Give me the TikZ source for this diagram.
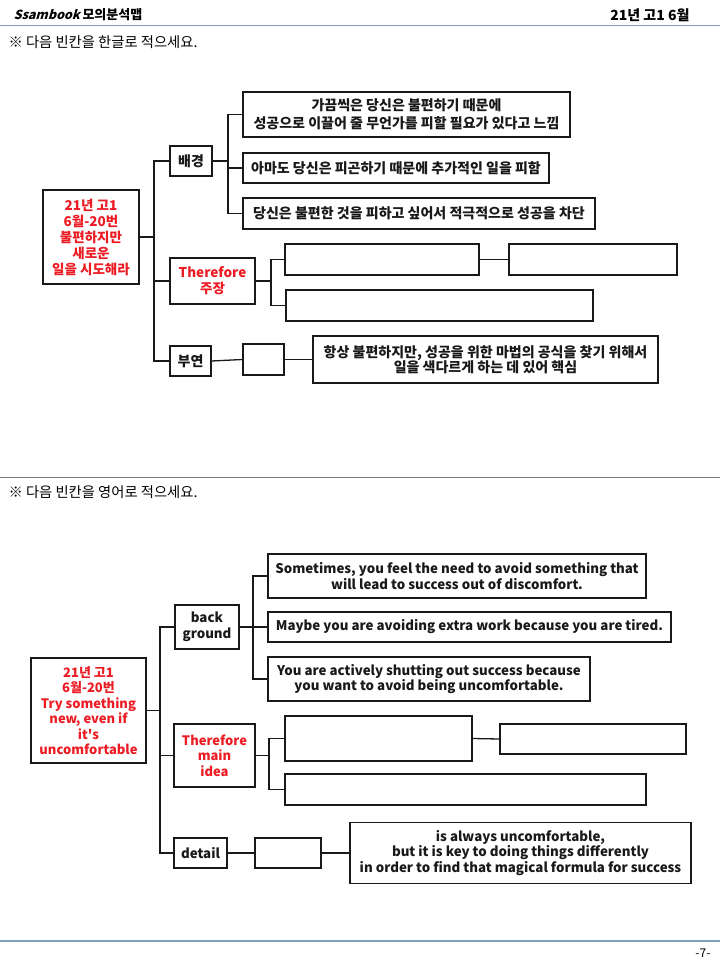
\documentclass[tikz,border=0pt]{standalone}
\usepackage{fontspec}
\setmainfont{Noto Sans CJK KR}
\newfontfamily\brandfont{Noto Sans CJK KR}[FakeSlant=0.3]
\definecolor{keyred}{RGB}{236,28,36}
\definecolor{rulecol}{RGB}{128,158,190}
\definecolor{sepcol}{RGB}{120,120,120}
\definecolor{ink}{RGB}{25,25,25}
\begin{document}
\begin{tikzpicture}[x=1pt,y=-1pt,
  box/.style={draw=ink, line width=1.3pt, inner sep=0pt, align=center, text=ink,
    font=\bfseries\fontsize{14}{18.5}\selectfont},
  entext/.style={box, font=\bfseries\fontsize{13.3}{15.5}\selectfont},
  key/.style={box, text=keyred, font=\bfseries\fontsize{13.5}{16}\selectfont},
  enkey/.style={box, text=keyred, font=\bfseries\fontsize{13}{15.5}\selectfont},
  wire/.style={draw=ink, line width=1.3pt}]
\useasboundingbox (0,0) rectangle (720,960);
\fill[white] (0,0) rectangle (720,960);

% page header and footer
\node[anchor=west, font=\brandfont\bfseries\fontsize{12.5}{12.5}\selectfont] (brand) at (10,15) {Ssambook};
\node[anchor=west, font=\bfseries\fontsize{13}{13}\selectfont] (title) at (79,15) {모의분석맵};
\node[anchor=east, font=\bfseries\fontsize{14}{14}\selectfont] (exam) at (693,15) {21년 고1 6월};
\draw[rulecol, line width=1.4pt] (0,25.5) -- (720,25.5);
\draw[rulecol, line width=1.4pt] (0,941) -- (720,941);
\node[anchor=east, font=\fontsize{12}{12}\selectfont] (page) at (714,953) {-7-};

% ---------------- Korean map ----------------
\node[anchor=west, font=\fontsize{14.3}{14.3}\selectfont] (q1) at (5,42) {※ 다음 빈칸을 한글로 적으세요.};

\node[key, minimum width=96, minimum height=94] (rootk) at (91,237)
  {21년 고1\\6월-20번\\불편하지만\\새로운\\일을 시도해라};
\node[box, minimum width=42, minimum height=30] (bgk) at (191,161) {배경};
\node[key, minimum width=85, minimum height=46] (thk) at (212.5,281) {Therefore\\주장};
\node[box, minimum width=41, minimum height=30] (buk) at (190.5,361) {부연};

\node[box, minimum width=327, minimum height=45] (a1) at (406.5,114.5)
  {가끔씩은 당신은 불편하기 때문에\\성공으로 이끌어 줄 무언가를 피할 필요가 있다고 느낌};
\node[box, minimum width=306, minimum height=30] (a2) at (396,168)
  {아마도 당신은 피곤하기 때문에 추가적인 일을 피함};
\node[box, minimum width=352, minimum height=31] (a3) at (419,213.5)
  {당신은 불편한 것을 피하고 싶어서 적극적으로 성공을 차단};

\node[box, minimum width=194, minimum height=31] (b1) at (382,259.5) {};
\node[box, minimum width=168, minimum height=31] (b2) at (593,259.5) {};
\node[box, minimum width=307, minimum height=31] (b3) at (439.5,305.5) {};

\node[box, minimum width=41, minimum height=31] (c1) at (263.5,359.5) {};
\node[box, minimum width=345, minimum height=47, font=\bfseries\fontsize{14}{15.5}\selectfont] (c2) at (485.5,359.5)
  {항상 불편하지만, 성공을 위한 마법의 공식을 찾기 위해서\\일을 색다르게 하는 데 있어 핵심};

\coordinate (tk) at (154,237);
\coordinate (vk1) at (228,161);
\coordinate (vk2) at (271,281);
\draw[wire] (rootk.east) -- (tk);
\draw[wire] (bgk.west) -| (tk) |- (buk.west);
\draw[wire] (thk.west) -- (thk.west -| tk);
\draw[wire] (bgk.east) -- (vk1);
\draw[wire] (a1.west) -| (vk1) |- (a3.west);
\draw[wire] (a2.west) -- (a2.west -| vk1);
\draw[wire] (thk.east) -- (vk2);
\draw[wire] (b1.west) -| (vk2) |- (b3.west);
\draw[wire] (b1.east) -- (b2.west);
\draw[wire] (buk.east) -- (c1.west);
\draw[wire] (c1.east) -- (c2.west);

% ---------------- English map ----------------
\draw[sepcol, line width=1.4pt] (0,477.5) -- (720,477.5);
\node[anchor=west, font=\fontsize{14.3}{14.3}\selectfont] (q2) at (5,492) {※ 다음 빈칸을 영어로 적으세요.};

\node[enkey, minimum width=115, minimum height=105] (roote) at (88.5,710.5)
  {21년 고1\\6월-20번\\Try something\\new, even if\\it\textquotesingle s\\uncomfortable};
\node[entext, minimum width=64, minimum height=44] (bge) at (207,627) {back\\ground};
\node[enkey, minimum width=81, minimum height=63] (the) at (214.5,755.5) {Therefore\\main\\idea};
\node[entext, minimum width=53, minimum height=30] (dte) at (200.5,853) {detail};

\node[entext, minimum width=378, minimum height=44] (d1) at (457,576)
  {Sometimes, you feel the need to avoid something that\\will lead to success out of discomfort.};
\node[entext, minimum width=403, minimum height=30] (d2) at (469.5,627)
  {Maybe you are avoiding extra work because you are tired.};
\node[entext, minimum width=322, minimum height=44] (d3) at (429,679)
  {You are actively shutting out success because\\you want to avoid being uncomfortable.};

\node[box, minimum width=187, minimum height=45] (e1) at (378.5,738.5) {};
\node[box, minimum width=186, minimum height=30] (e2) at (593,739) {};
\node[box, minimum width=361, minimum height=31] (e3) at (465.5,789.5) {};

\node[box, minimum width=66, minimum height=30] (f1) at (288,853) {};
\node[entext, minimum width=341, minimum height=61] (f2) at (520.5,853)
  {is always uncomfortable,\\but it is key to doing things differently\\in order to find that magical formula for success};

\coordinate (te) at (160,710.5);
\coordinate (ve1) at (253,627);
\coordinate (ve2) at (269,755.5);
\draw[wire] (roote.east) -- (te);
\draw[wire] (bge.west) -| (te) |- (dte.west);
\draw[wire] (the.west) -- (the.west -| te);
\draw[wire] (bge.east) -- (ve1);
\draw[wire] (d1.west) -| (ve1) |- (d3.west);
\draw[wire] (d2.west) -- (d2.west -| ve1);
\draw[wire] (the.east) -- (ve2);
\draw[wire] (e1.west) -| (ve2) |- (e3.west);
\draw[wire] (e1.east) -- (e2.west);
\draw[wire] (dte.east) -- (f1.west);
\draw[wire] (f1.east) -- (f2.west);
\end{tikzpicture}
\end{document}
